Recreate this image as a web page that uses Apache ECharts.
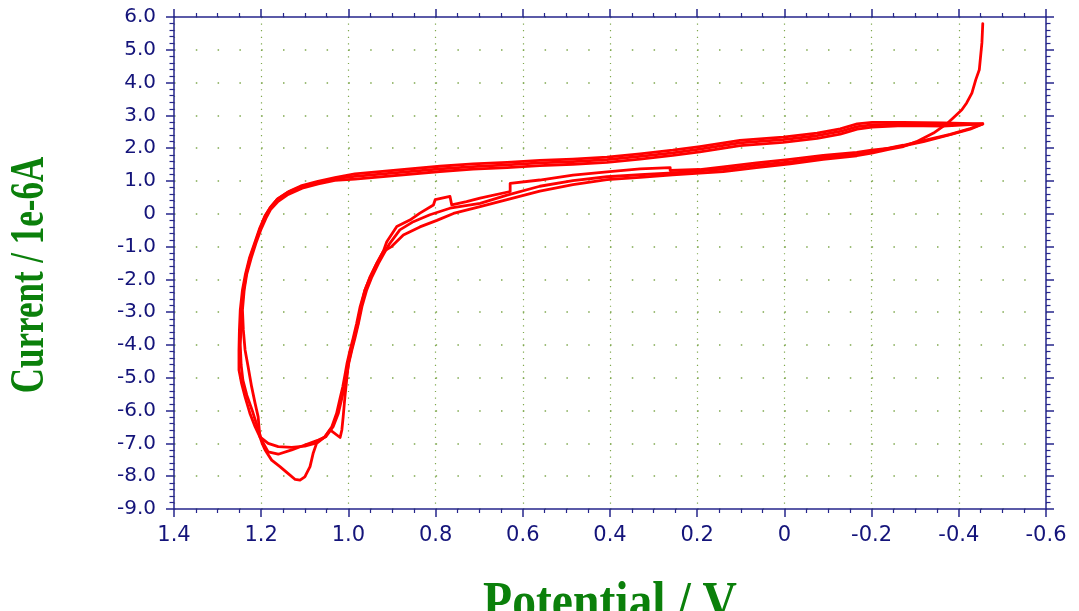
<!DOCTYPE html>
<html>
<head>
<meta charset="utf-8">
<title>Cyclic voltammogram</title>
<script src="https://cdn.jsdelivr.net/npm/echarts@6/dist/echarts.min.js"></script>
<style>
  html, body { margin: 0; padding: 0; background: #ffffff; }
  #chart { width: 1079px; height: 611px; }
</style>
</head>
<body>
<div id="chart"></div>
<script>
// Axis ranges (potential in V, current in 1e-6 A)
const potentialRange = { min: -0.6, max: 1.4, step: 0.2 };
const currentRange = { min: -9, max: 6, step: 1 };

const xTitle = 'Potential / V';
const yTitle = 'Current / 1e-6A';

// Each sweep is a list of [potential, current] pairs in scan order.
// First cycle, starting with the charging spike at the negative end.
const sweep1 = [
  [-0.455, 5.80], [-0.453, 5.21], [-0.447, 4.39], [-0.439, 4.09], [-0.430, 3.68],
  [-0.418, 3.38], [-0.407, 3.17], [-0.387, 2.92], [-0.372, 2.74], [-0.342, 2.46],
  [-0.303, 2.20], [-0.273, 2.05], [-0.242, 1.97],
  [-0.200, 1.85], [-0.166, 1.77], [-0.089, 1.66], [-0.013, 1.52], [0.064, 1.41], [0.140, 1.29],
  [0.194, 1.24], [0.256, 1.19], [0.331, 1.11], [0.407, 1.04], [0.485, 0.89], [0.561, 0.69],
  [0.636, 0.43], [0.698, 0.22], [0.759, 0.01], [0.797, -0.20], [0.836, -0.40], [0.874, -0.65],
  [0.901, -1.00],
  [0.920, -1.15], [0.935, -1.51], [0.950, -1.92], [0.962, -2.32], [0.973, -2.83], [0.981, -3.34],
  [0.989, -3.79], [0.996, -4.15], [1.003, -4.55], [1.008, -4.92], [1.013, -5.28], [1.019, -5.62],
  [1.027, -6.08], [1.038, -6.49], [1.054, -6.80],
  [1.073, -7.00], [1.081, -7.31], [1.088, -7.71], [1.100, -8.02], [1.111, -8.12], [1.122, -8.10],
  [1.138, -7.92], [1.157, -7.71], [1.176, -7.51], [1.191, -7.20], [1.198, -6.99],
  [1.203, -6.80], [1.214, -6.49], [1.226, -6.08], [1.237, -5.58], [1.245, -5.17], [1.251, -4.76],
  [1.251, -4.15], [1.250, -3.54], [1.248, -2.93], [1.243, -2.32], [1.236, -1.83], [1.227, -1.35],
  [1.215, -0.89], [1.204, -0.46], [1.192, -0.09], [1.180, 0.18], [1.164, 0.43], [1.141, 0.64],
  [1.111, 0.82], [1.072, 0.96], [1.031, 1.07],
  [0.985, 1.14], [0.790, 1.37], [0.714, 1.44], [0.636, 1.49], [0.561, 1.55], [0.485, 1.59],
  [0.407, 1.65], [0.331, 1.75], [0.256, 1.86], [0.194, 1.97], [0.102, 2.16], [0.003, 2.26],
  [-0.075, 2.38], [-0.128, 2.51], [-0.167, 2.66], [-0.201, 2.71], [-0.272, 2.74], [-0.364, 2.71],
  [-0.455, 2.74]
];

// Second cycle (shows the small current steps and the notch near 1.02 V).
const sweep2 = [
  [-0.455, 2.74], [-0.426, 2.58], [-0.380, 2.41], [-0.319, 2.20], [-0.273, 2.07], [-0.242, 2.00],
  [-0.200, 1.94], [-0.166, 1.87], [-0.089, 1.78], [-0.013, 1.66], [0.064, 1.55], [0.140, 1.43],
  [0.194, 1.35], [0.262, 1.32], [0.262, 1.41], [0.331, 1.37], [0.407, 1.28], [0.485, 1.18],
  [0.561, 1.03], [0.629, 0.93], [0.629, 0.68], [0.698, 0.48], [0.729, 0.37], [0.763, 0.27],
  [0.767, 0.53], [0.801, 0.43], [0.805, 0.27], [0.836, 0.02], [0.859, -0.19], [0.889, -0.39],
  [0.912, -0.85],
  [0.920, -1.15], [0.935, -1.51], [0.950, -1.92], [0.962, -2.32], [0.971, -2.83], [0.978, -3.34],
  [0.985, -3.70], [0.992, -4.09], [1.000, -4.56], [1.004, -5.07], [1.008, -5.58], [1.012, -6.19],
  [1.015, -6.59], [1.019, -6.82], [1.042, -6.59], [1.054, -6.80],
  [1.077, -7.00], [1.100, -7.08], [1.130, -7.12], [1.161, -7.10], [1.184, -7.00],
  [1.203, -6.80], [1.207, -6.19], [1.214, -5.78], [1.222, -5.27], [1.230, -4.66], [1.237, -4.15],
  [1.241, -3.54], [1.243, -2.93], [1.239, -2.32], [1.233, -1.83], [1.223, -1.35], [1.212, -0.89],
  [1.200, -0.46], [1.189, -0.13], [1.178, 0.14], [1.161, 0.38], [1.138, 0.59], [1.106, 0.78],
  [1.069, 0.91], [1.031, 1.02],
  [0.985, 1.06], [0.790, 1.29], [0.714, 1.36], [0.636, 1.41], [0.561, 1.47], [0.485, 1.51],
  [0.407, 1.57], [0.331, 1.67], [0.256, 1.78], [0.194, 1.89], [0.102, 2.08], [0.003, 2.18],
  [-0.075, 2.30], [-0.128, 2.43], [-0.167, 2.58], [-0.201, 2.64], [-0.272, 2.69], [-0.364, 2.67],
  [-0.455, 2.74]
];

// Third cycle.
const sweep3 = [
  [-0.455, 2.74], [-0.426, 2.60], [-0.380, 2.42], [-0.319, 2.23], [-0.273, 2.09], [-0.242, 2.01],
  [-0.200, 1.89], [-0.166, 1.81], [-0.089, 1.72], [-0.013, 1.58], [0.064, 1.48], [0.140, 1.36],
  [0.194, 1.31], [0.256, 1.25], [0.331, 1.19], [0.407, 1.13], [0.485, 1.01], [0.561, 0.84],
  [0.636, 0.57], [0.698, 0.32], [0.767, 0.17], [0.813, -0.03], [0.851, -0.24], [0.882, -0.49],
  [0.905, -0.90],
  [0.916, -1.15], [0.931, -1.51], [0.946, -1.92], [0.958, -2.32], [0.969, -2.83], [0.977, -3.34],
  [0.985, -3.79], [0.992, -4.15], [0.999, -4.55], [1.004, -4.92], [1.009, -5.28], [1.015, -5.62],
  [1.023, -6.08], [1.035, -6.49], [1.052, -6.80],
  [1.069, -6.90], [1.100, -7.05], [1.130, -7.20], [1.161, -7.33], [1.184, -7.26],
  [1.199, -6.90], [1.210, -6.44], [1.221, -5.98], [1.233, -5.53], [1.242, -5.07], [1.246, -4.61],
  [1.248, -4.00], [1.246, -3.39], [1.245, -2.84], [1.240, -2.32], [1.234, -1.80], [1.225, -1.32],
  [1.213, -0.86], [1.202, -0.43], [1.191, -0.06], [1.178, 0.21], [1.162, 0.46], [1.138, 0.67],
  [1.109, 0.85], [1.070, 0.99], [1.031, 1.10],
  [0.985, 1.22], [0.790, 1.45], [0.714, 1.52], [0.636, 1.57], [0.561, 1.63], [0.485, 1.67],
  [0.407, 1.73], [0.331, 1.83], [0.256, 1.94], [0.194, 2.05], [0.102, 2.24], [0.003, 2.34],
  [-0.075, 2.46], [-0.128, 2.59], [-0.167, 2.74], [-0.201, 2.79], [-0.272, 2.79], [-0.364, 2.77],
  [-0.455, 2.74]
];

const sweeps = [sweep1, sweep2, sweep3];

const AXIS_COLOR = '#26268c';
const LABEL_COLOR = '#14147a';
const GRID_DOT = '#7fa84e';
const TITLE_GREEN = '#0b800b';
const TRACE_RED = '#ff0000';

function tickText(v) {
  return Math.abs(v) < 1e-9 ? '0' : v.toFixed(1);
}

const chart = echarts.init(document.getElementById('chart'), null, { renderer: 'canvas' });

const baseX = {
  type: 'value',
  min: potentialRange.min,
  max: potentialRange.max,
  interval: potentialRange.step,
  inverse: true,
  axisLine: { show: true, onZero: false, lineStyle: { color: AXIS_COLOR, width: 1.5 } },
  axisTick: { show: true, length: 8, lineStyle: { color: AXIS_COLOR, width: 1.5 } },
  minorTick: { show: true, splitNumber: 4, length: 4, lineStyle: { color: AXIS_COLOR, width: 1.2 } }
};

const baseY = {
  type: 'value',
  min: currentRange.min,
  max: currentRange.max,
  interval: currentRange.step,
  axisLine: { show: true, onZero: false, lineStyle: { color: AXIS_COLOR, width: 1.5 } },
  axisTick: { show: true, length: 8, lineStyle: { color: AXIS_COLOR, width: 1.5 } },
  minorTick: { show: true, splitNumber: 5, length: 4.5, lineStyle: { color: AXIS_COLOR, width: 1.2 } }
};

const option = {
  animation: false,
  backgroundColor: '#ffffff',
  grid: {
    left: 174, right: 33, top: 17, bottom: 102,
    containLabel: false,
    outerBoundsMode: 'none'
  },
  xAxis: [
    Object.assign({}, baseX, {
      position: 'bottom',
      axisLabel: {
        color: LABEL_COLOR, fontFamily: 'DejaVu Sans', fontSize: 21, margin: 16,
        formatter: tickText
      },
      splitLine: { show: true, lineStyle: { color: GRID_DOT, width: 1.2, type: [1.2, 5.36] } }
    }),
    Object.assign({}, baseX, {
      position: 'top',
      axisLabel: { show: false },
      splitLine: { show: false }
    })
  ],
  yAxis: [
    Object.assign({}, baseY, {
      position: 'left',
      axisLabel: {
        color: LABEL_COLOR, fontFamily: 'DejaVu Sans', fontSize: 20, margin: 18,
        formatter: tickText
      },
      splitLine: { show: true, lineStyle: { color: GRID_DOT, width: 1.5, type: [1.5, 20.3] } }
    }),
    Object.assign({}, baseY, {
      position: 'right',
      axisLabel: { show: false },
      splitLine: { show: false }
    })
  ],
  graphic: [
    {
      type: 'text',
      x: 30.5, y: 275,
      rotation: Math.PI / 2,
      scaleY: 1.41,
      style: {
        text: yTitle,
        font: 'bold 35px "Liberation Serif"',
        fill: TITLE_GREEN,
        align: 'center',
        verticalAlign: 'middle'
      }
    },
    {
      type: 'text',
      x: 610, y: 605,
      scaleX: 1.4,
      scaleY: 1.6,
      style: {
        text: xTitle,
        font: 'bold 34px "Liberation Serif"',
        fill: TITLE_GREEN,
        align: 'center',
        verticalAlign: 'middle'
      }
    }
  ],
  series: sweeps.map(function (data, i) {
    return {
      name: 'cycle ' + (i + 1),
      type: 'line',
      xAxisIndex: 0,
      yAxisIndex: 0,
      data: data,
      showSymbol: false,
      symbol: 'none',
      smooth: false,
      clip: true,
      lineStyle: { color: TRACE_RED, width: 2.8, join: 'round', cap: 'round' },
      z: 5
    };
  })
};

chart.setOption(option);
</script>
</body>
</html>
